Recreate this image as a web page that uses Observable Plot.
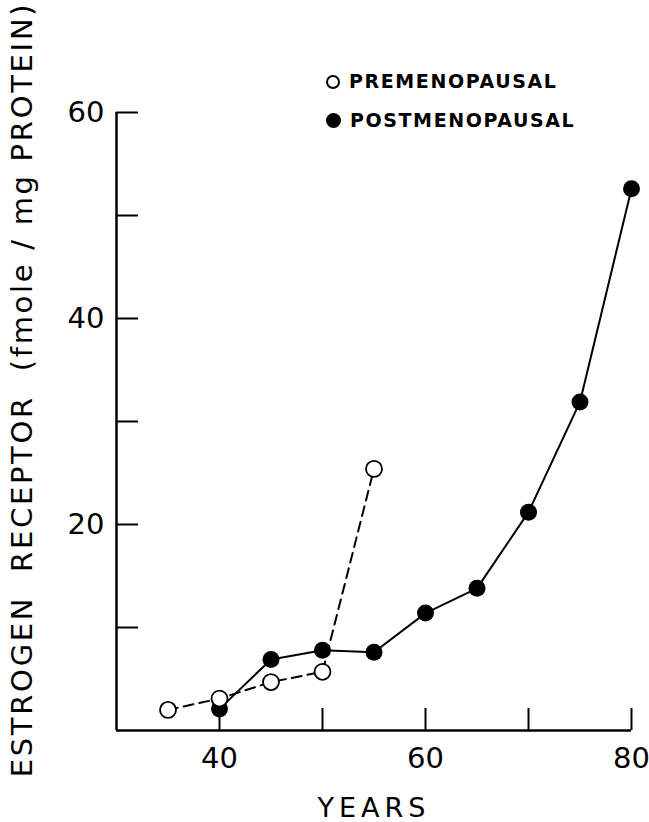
<!DOCTYPE html>
<html><head><meta charset="utf-8">
<script src="https://cdn.jsdelivr.net/npm/d3@7"></script>
<script src="https://cdn.jsdelivr.net/npm/@observablehq/plot@0.6"></script>
<style>
body{margin:0;background:#fff;}
#wrap{position:relative;width:649px;height:822px;font-family:"DejaVu Sans",sans-serif;}
#wrap svg{font-family:"DejaVu Sans",sans-serif;}
#wrap svg [aria-label="x-axis label"] text{letter-spacing:5px;}
#wrap svg .ylab text{letter-spacing:2.7px;}
.legend{position:absolute;left:326px;top:62px;font-size:19px;font-weight:bold;letter-spacing:1.6px;color:#000;line-height:39px;}
.legend .row{display:flex;align-items:center;}
.legend .sym{display:inline-block;box-sizing:border-box;border-radius:50%;margin-right:9px;}
</style></head><body><div id="wrap"></div><script>
const preYears = [35, 40, 45, 50, 55];
const preValues = [2.0, 3.1, 4.7, 5.7, 25.4];
const postYears = [40, 45, 50, 55, 60, 65, 70, 75, 80];
const postValues = [2.1, 6.9, 7.8, 7.6, 11.4, 13.8, 21.2, 31.9, 52.6];
const xTicks = [40, 50, 60, 70, 80];
const xTickLabels = [40, 60, 80];
const yTicks = [10, 20, 30, 40, 50, 60];
const yTickLabels = [20, 40, 60];
const seriesNames = ["PREMENOPAUSAL", "POSTMENOPAUSAL"];
const xLabel = "YEARS";
const yLabel = "ESTROGEN  RECEPTOR  (fmole / mg PROTEIN)";

const pre = preYears.map((x, i) => ({x, y: preValues[i]}));
const post = postYears.map((x, i) => ({x, y: postValues[i]}));

const W = 649, H = 822, mL = 116, mR = 18, mT = 112, mB = 92;
const xDom = [30, 80], yDom = [0, 60];
const tickPx = 22;
const tickY = tickPx * (yDom[1] - yDom[0]) / (H - mT - mB);
const tickX = tickPx * (xDom[1] - xDom[0]) / (W - mL - mR);

const chart = Plot.plot({
  width: W, height: H,
  marginLeft: mL, marginRight: mR, marginTop: mT, marginBottom: mB,
  x: {domain: xDom},
  y: {domain: yDom},
  marks: [
    Plot.ruleY([yDom[0]], {x1: xDom[0], x2: xDom[1], stroke: "#000", strokeWidth: 2.5}),
    Plot.ruleX([xDom[0]], {y1: yDom[0], y2: yDom[1], stroke: "#000", strokeWidth: 2.5}),
    Plot.ruleX(xTicks, {x: d => d, y1: yDom[0], y2: yDom[0] + tickY, stroke: "#000", strokeWidth: 2}),
    Plot.ruleY(yTicks, {y: d => d, x1: xDom[0], x2: xDom[0] + tickX, stroke: "#000", strokeWidth: 2}),
    Plot.axisX(xTickLabels, {tickSize: 0, tickPadding: 17, fontSize: 29, label: xLabel, labelAnchor: "center", labelOffset: 86, labelArrow: "none"}),
    Plot.axisY(yTickLabels, {tickSize: 0, tickPadding: 12, fontSize: 29, label: null}),
    Plot.text([yLabel], {text: d => d, frameAnchor: "left", textAnchor: "middle", lineAnchor: "middle", rotate: -90, dx: -94, dy: -32, fontSize: 29, className: "ylab"}),
    Plot.line(post, {x: "x", y: "y", stroke: "#000", strokeWidth: 2}),
    Plot.dot(post, {x: "x", y: "y", r: 8.5, fill: "#000"}),
    Plot.line(pre, {x: "x", y: "y", stroke: "#000", strokeWidth: 2, strokeDasharray: "10,6"}),
    Plot.dot(pre, {x: "x", y: "y", r: 8, fill: "#fff", stroke: "#000", strokeWidth: 1.8})
  ]
});
const wrap = document.getElementById("wrap");
wrap.appendChild(chart);
chart.querySelectorAll('[aria-label="x-axis label"] text').forEach(t => t.setAttribute("font-size", 27));

const legend = document.createElement("div");
legend.className = "legend";
legend.innerHTML = `
<div class="row"><span class="sym" style="width:14px;height:14px;border:2px solid #000;background:#fff"></span>${seriesNames[0]}</div>
<div class="row"><span class="sym" style="width:15px;height:15px;background:#000"></span>${seriesNames[1]}</div>`;
wrap.appendChild(legend);
</script></body></html>
